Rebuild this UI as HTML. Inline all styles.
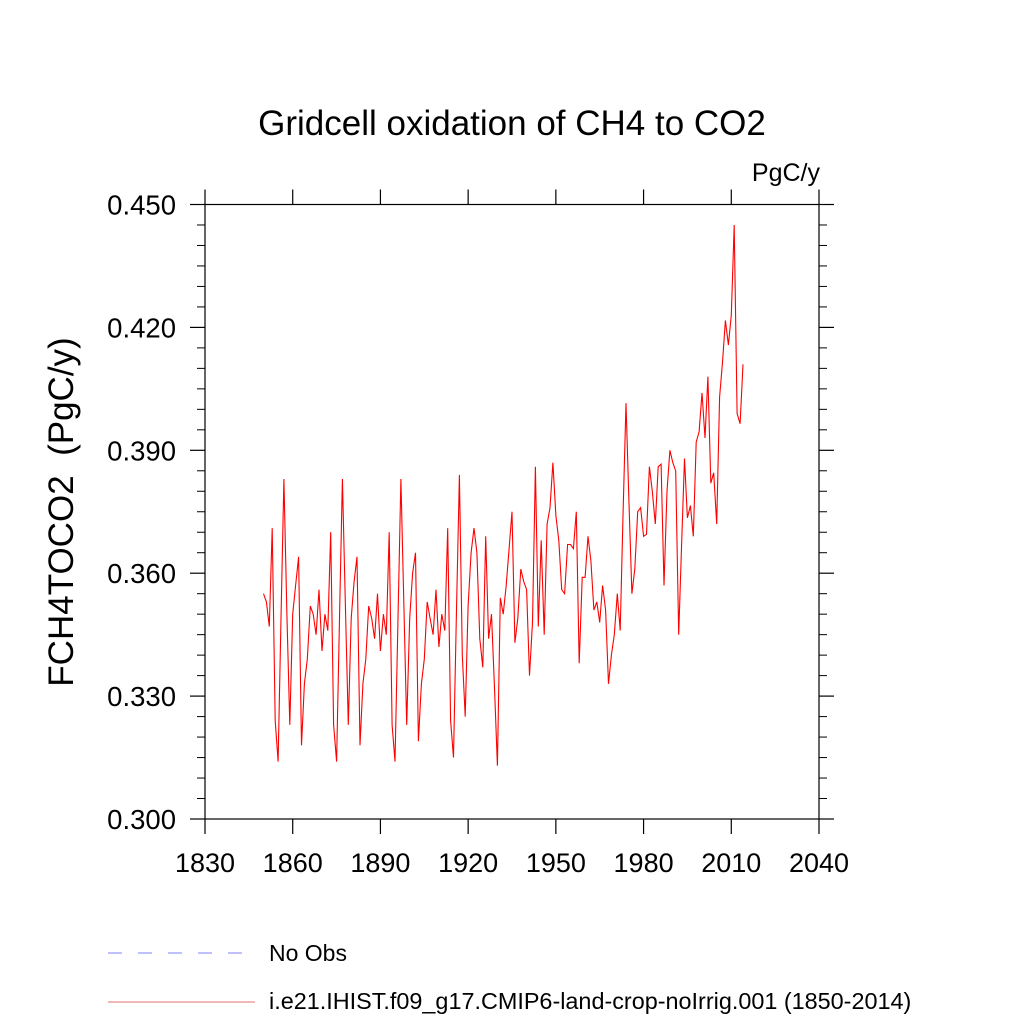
<!DOCTYPE html>
<html><head><meta charset="utf-8"><style>
body{margin:0;background:#fff}
svg{display:block;font-family:"Liberation Sans",sans-serif}
</style></head><body>
<svg id="chart" width="1024" height="1024" viewBox="0 0 1024 1024">
<text x="512" y="135" font-size="35" text-anchor="middle">Gridcell oxidation of CH4 to CO2</text>
<text x="820" y="181" font-size="25" text-anchor="end">PgC/y</text>
<text transform="translate(73,512) rotate(-90)" font-size="35" text-anchor="middle" xml:space="preserve" style="white-space:pre">FCH4TOCO2  (PgC/y)</text>
<g id="axes"></g>
<g id="series"></g>
<line x1="108" y1="953" x2="245" y2="953" stroke="#8080ff" stroke-width="1" stroke-dasharray="14,16"/>
<text x="269" y="961" font-size="23">No Obs</text>
<line x1="108" y1="1002" x2="255" y2="1002" stroke="#e07070" stroke-width="1"/>
<text x="269" y="1009" font-size="23.4">i.e21.IHIST.f09_g17.CMIP6-land-crop-noIrrig.001 (1850-2014)</text>
</svg>
<script>
const startYear = 1850;
const values = [0.355,0.353,0.347,0.371,0.324,0.314,0.349,0.383,0.350,0.323,0.350,0.357,0.364,0.318,0.333,0.339,0.352,0.350,0.345,0.356,0.341,0.350,0.346,0.370,0.323,0.314,0.349,0.383,0.353,0.323,0.349,0.358,0.364,0.318,0.333,0.339,0.352,0.349,0.344,0.355,0.341,0.350,0.345,0.370,0.323,0.314,0.349,0.383,0.353,0.323,0.349,0.360,0.365,0.319,0.333,0.339,0.353,
0.349,
0.345,0.356,0.342,0.350,0.346,0.371,0.324,0.315,0.350,0.384,0.340,0.325,0.352,0.365,0.371,0.365,0.344,0.337,0.369,0.344,0.350,0.332,0.313,0.354,0.350,0.357,0.366,0.375,0.343,0.349,0.361,0.358,0.356,0.335,0.348,0.386,0.347,0.368,0.345,0.372,0.376,0.387,0.374,0.368,0.356,0.355,0.367,0.367,0.366,0.375,0.338,0.359,0.359,0.369,0.363,0.351,0.353,0.348,
0.357,0.351,0.333,0.340,0.345,0.355,0.346,0.375,0.4015,0.377,0.355,0.361,0.375,0.376,0.369,0.3695,0.386,0.380,0.372,0.386,0.3866,0.357,0.380,0.390,0.387,0.385,0.345,0.367,0.388,0.3735,0.3765,0.369,0.392,0.3945,0.404,0.393,0.408,0.382,0.3845,0.372,0.403,0.4115,0.4217,0.4157,0.423,0.445,0.399,0.3965,0.411];
const xTicks = [1830,1860,1890,1920,1950,1980,2010,2040];
const yTicks = [0.300,0.330,0.360,0.390,0.420,0.450];
const yTickLabels = ["0.300","0.330","0.360","0.390","0.420","0.450"];

const L=205,R=819,T=204.5,B=819;
const xs=y=>L+(y-1830)/(2040-1830)*(R-L);
const ys=v=>B-(v-0.3)/(0.15)*(B-T);
const NS="http://www.w3.org/2000/svg";
const axes=document.getElementById('axes');
function mk(tag,attrs,parent){const e=document.createElementNS(NS,tag);for(const k in attrs)e.setAttribute(k,attrs[k]);parent.appendChild(e);return e;}
const frame=mk('rect',{x:L,y:T,width:R-L,height:B-T,fill:'none',stroke:'#000','stroke-width':1.2},axes);


xTicks.forEach((t,i)=>{
  const x=xs(t);
  mk('line',{x1:x,y1:B,x2:x,y2:B+15,stroke:'#000','stroke-width':1.2},axes);
  mk('line',{x1:x,y1:T,x2:x,y2:T-15,stroke:'#000','stroke-width':1.2},axes);
  const tx=mk('text',{x:x,y:B+53,'font-size':27,'text-anchor':'middle'},axes);
  tx.textContent=t;
  
  
});
yTicks.forEach((t,i)=>{
  const y=ys(t);
  mk('line',{x1:L,y1:y,x2:L-15,y2:y,stroke:'#000','stroke-width':1.2},axes);
  mk('line',{x1:R,y1:y,x2:R+15,y2:y,stroke:'#000','stroke-width':1.2},axes);
  const tx=mk('text',{x:L-29,y:y+10,'font-size':27.5,'text-anchor':'end'},axes);
  tx.textContent=yTickLabels[i];
  
  
  if(i<yTicks.length-1){for(let k=1;k<6;k++){const my=ys(t+k*0.005);
    mk('line',{x1:L,y1:my,x2:L-8,y2:my,stroke:'#000','stroke-width':1},axes);
    mk('line',{x1:R,y1:my,x2:R+8,y2:my,stroke:'#000','stroke-width':1},axes);}}
});
const pts=values.map((v,i)=>xs(startYear+i).toFixed(1)+','+ys(v).toFixed(1)).join(' ');
const line=mk('polyline',{points:pts,fill:'none',stroke:'#ff0000','stroke-width':1.1},document.getElementById('series'));


</script>
</body></html>
